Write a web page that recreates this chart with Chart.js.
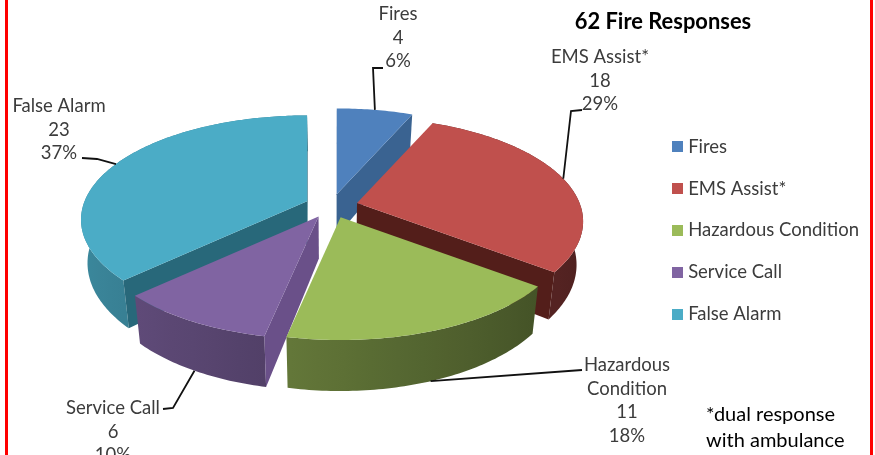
<!DOCTYPE html>
<html>
<head>
<meta charset="utf-8">
<script src="https://cdn.jsdelivr.net/npm/chart.js@4"></script>
<style>
  html, body { margin: 0; padding: 0; background: #fff; overflow: hidden; }
  #wrap { position: absolute; left: 0; top: 0; width: 875px; height: 455px; }
  #frame { position: absolute; left: 5px; top: -5px; width: 862px; height: 470px; border: 3px solid #f00; pointer-events: none; }
</style>
</head>
<body>
<div id="wrap"><canvas id="chartFires" width="875" height="455"></canvas><div id="frame"></div></div>
<script>
const categorias = ['Fires', 'EMS Assist*', 'Hazardous Condition', 'Service Call', 'False Alarm'];
const valores = [4, 18, 11, 6, 23];
const porcentajes = ['6%', '29%', '18%', '10%', '37%'];

const colores = ['#4F81BD', '#C0504D', '#9BBB59', '#8064A2', '#4BACC6'];
const coloresLado = ['#3A6391', '#531E1A', '#3E5022', '#6A5089', '#28687A'];
// back to front
const ordenDibujo = [0, 4, 1, 3, 2];

const titulo = '62 Fire Responses';
const nota = ['*dual response', 'with ambulance'];

// perspective of the pie, fitted on the picture
const vista = { cx: 331.4, cy: 206, a: 222.5, b: 101, k: 0.177, explode: 0.119, alto: 42, encoge: 0.974 };

// data label blocks and the bends of their leader lines
const etiquetas = [
    { x: 398, y: 14, nombre: ['Fires'], guia: [[373, 68], [383, 68]] },
    { x: 600, y: 57, nombre: ['EMS Assist*'], guia: [[571, 111], [582, 110]] },
    { x: 627, y: 365, nombre: ['Hazardous', 'Condition'], guia: [[582, 370]], abajo: true },
    { x: 113, y: 408, nombre: ['Service Call'], guia: [[173, 408], [163, 409]], abajo: true },
    { x: 59, y: 106, nombre: ['False Alarm'], guia: [[97, 159], [82, 158]] }
];

function sombra(hex, f) {
    const n = parseInt(hex.slice(1), 16);
    return 'rgb(' + Math.round((n >> 16) * f) + ',' + Math.round(((n >> 8) & 255) * f) + ',' + Math.round((n & 255) * f) + ')';
}

function arriba(arco, ang) {
    const mid = (arco.startAngle + arco.endAngle) / 2;
    const ax = vista.cx + vista.a * vista.explode * Math.cos(mid);
    const ay = vista.cy + vista.b * vista.explode * Math.sin(mid);
    if (ang === null) return [ax, ay];
    const d = 1 - vista.k * Math.sin(ang);
    return [ax + vista.a * Math.cos(ang) / d, ay + vista.b * Math.sin(ang) / d];
}

function abajo(p, ang) {
    const d = ang === null ? 1 : 1 - vista.k * Math.sin(ang);
    return [vista.cx + (p[0] - vista.cx) * vista.encoge, p[1] + vista.alto / d];
}

function area(pts) {
    let s = 0;
    pts.forEach((p, i) => {
        const q = pts[(i + 1) % pts.length];
        s += p[0] * q[1] - q[0] * p[1];
    });
    return s / 2;
}

function poligono(ctx, pts, color) {
    ctx.beginPath();
    pts.forEach((p, i) => i ? ctx.lineTo(p[0], p[1]) : ctx.moveTo(p[0], p[1]));
    ctx.closePath();
    ctx.fillStyle = color;
    ctx.fill();
}

// outer wall: one path, shaded left to right by the angle under each x
function paredExterior(ctx, arco, i) {
    const ini = arco.startAngle, fin = arco.endAngle;
    const pasos = Math.ceil((fin - ini) * 60);
    const borde = [], fondo = [], paradas = [];
    for (let n = 0; n <= pasos; n++) {
        const t = ini + (fin - ini) * n / pasos;
        const p = arriba(arco, t);
        borde.push(p);
        fondo.unshift(abajo(p, t));
        if (Math.sin(t) >= 0 && n % 6 === 0) paradas.push([p[0], t]);
    }
    if (paradas.length < 2) return;
    const xs = paradas.map(s => s[0]);
    const x0 = Math.min(...xs), x1 = Math.max(...xs);
    const grad = ctx.createLinearGradient(x0, 0, x1, 0);
    paradas.forEach(s => grad.addColorStop((s[0] - x0) / (x1 - x0), sombra(colores[i], 0.6 - 0.2 * Math.cos(s[1]))));
    poligono(ctx, borde.concat(fondo), grad);
}

function dibujarPorcion(ctx, arco, i) {
    const ini = arco.startAngle, fin = arco.endAngle;
    const centro = arriba(arco, null), centroAbajo = abajo(centro, null);

    paredExterior(ctx, arco, i);

    // radial walls, only the ones facing us
    const a1 = arriba(arco, ini), a2 = arriba(arco, fin);
    const pared1 = [centro, centroAbajo, abajo(a1, ini), a1];
    const pared2 = [a2, abajo(a2, fin), centroAbajo, centro];
    if (area(pared1) > 0) poligono(ctx, pared1, coloresLado[i]);
    if (area(pared2) > 0) poligono(ctx, pared2, coloresLado[i]);

    // top face
    const tapa = [centro];
    const pasos = Math.ceil((fin - ini) * 60);
    for (let n = 0; n <= pasos; n++) tapa.push(arriba(arco, ini + (fin - ini) * n / pasos));
    poligono(ctx, tapa, colores[i]);
}

const pie3d = {
    id: 'pie3d',
    beforeDatasetDraw(chart) {
        const ctx = chart.ctx;
        const arcos = chart.getDatasetMeta(0).data;
        ctx.save();
        ordenDibujo.forEach(i => dibujarPorcion(ctx, arcos[i], i));

        // leader lines start on the slice edge, at its middle angle
        ctx.strokeStyle = '#111';
        ctx.lineWidth = 1.8;
        etiquetas.forEach((e, i) => {
            const mid = (arcos[i].startAngle + arcos[i].endAngle) / 2;
            let p = arriba(arcos[i], mid);
            if (e.abajo) p = abajo(p, mid);
            ctx.beginPath();
            ctx.moveTo(p[0], p[1]);
            e.guia.forEach(q => ctx.lineTo(q[0], q[1]));
            ctx.stroke();
        });

        // data labels
        ctx.textAlign = 'center';
        ctx.textBaseline = 'middle';
        ctx.fillStyle = '#3c3c3c';
        ctx.font = '18.5px Lato';
        etiquetas.forEach((e, i) => {
            e.nombre.concat(String(valores[i]), porcentajes[i]).forEach((t, n) => ctx.fillText(t, e.x, e.y + n * 23.6));
        });

        ctx.fillStyle = '#000';
        ctx.font = 'bold 21.9px Lato';
        ctx.fillText(titulo, 663, 22);

        ctx.textAlign = 'left';
        ctx.font = '20px Lato';
        nota.forEach((t, n) => ctx.fillText(t, 706, 415 + n * 26));
        ctx.restore();
        return false;
    }
};

// square legend marker, so the text can sit closer than a normal box allows
function marcador(color) {
    const c = document.createElement('canvas');
    c.width = 11;
    c.height = 11;
    const g = c.getContext('2d');
    g.fillStyle = color;
    g.fillRect(0, 0, 11, 11);
    return c;
}

new Chart(document.getElementById('chartFires'), {
    type: 'pie',
    data: {
        labels: categorias,
        datasets: [{
            data: valores,
            backgroundColor: colores,
            borderWidth: 0
        }]
    },
    options: {
        responsive: false,
        animation: false,
        layout: { padding: { top: 6, right: 6 } },
        plugins: {
            tooltip: { enabled: false },
            legend: {
                position: 'right',
                labels: {
                    usePointStyle: true,
                    pointStyleWidth: 2,
                    boxHeight: 11,
                    padding: 23.4,
                    color: '#3c3c3c',
                    font: { family: 'Lato', size: 18.5 },
                    generateLabels(chart) {
                        return Chart.overrides.pie.plugins.legend.labels.generateLabels(chart).map((item, i) => {
                            item.pointStyle = marcador(colores[i]);
                            return item;
                        });
                    }
                }
            }
        }
    },
    plugins: [pie3d]
});
</script>
</body>
</html>
